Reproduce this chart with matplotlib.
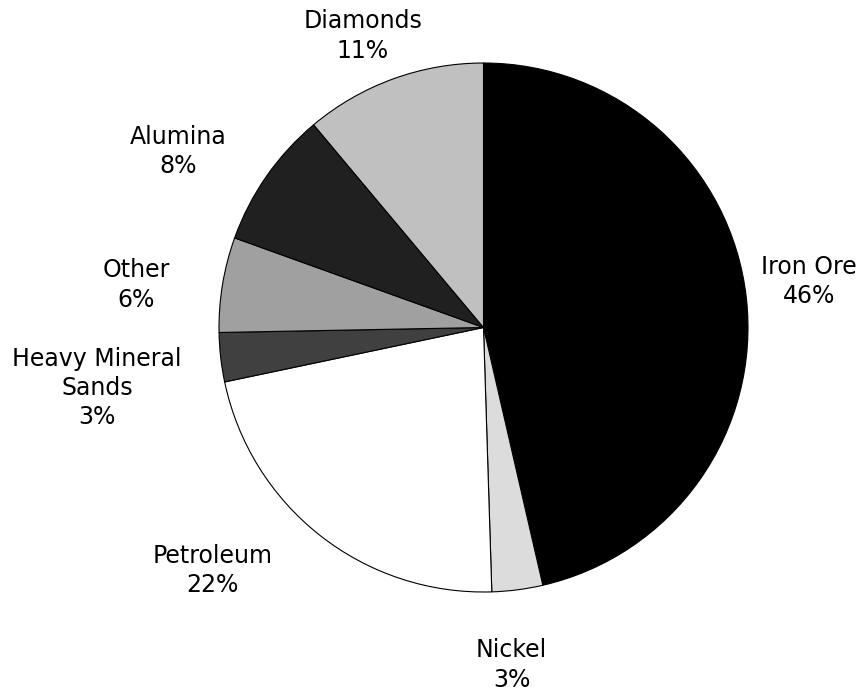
import matplotlib
matplotlib.use("Agg")
import matplotlib.pyplot as plt
import numpy as np

categories = ["Iron Ore", "Nickel", "Petroleum", "Heavy Mineral\nSands", "Other", "Alumina", "Diamonds"]
values = [46.4, 3.1, 22.2, 3.0, 5.8, 8.4, 11.1]
colors = ["#000000", "#dcdcdc", "#ffffff", "#404040", "#a0a0a0", "#202020", "#c0c0c0"]

# label layout (radial distance, angular shift in degrees)
label_r = [1.243, 1.281, 1.376, 1.479, 1.324, 1.332, 1.193]
label_dtheta = [1.6, -2.6, -10.0, 2.4, 2.4, 5.0, 2.5]

fig = plt.figure(figsize=(8.61, 6.95), dpi=100)
ax = fig.add_axes([0, 0, 1, 1])
wedges, _ = ax.pie(values, colors=colors, startangle=90, counterclock=False,
                   radius=1.0, wedgeprops=dict(edgecolor="black", linewidth=0.8))
ax.set_xlim(-483.5 / 264.5, (861 - 483.5) / 264.5)
ax.set_ylim(-367.5 / 264.5, 327.5 / 264.5)
ax.set_aspect("auto")
ax.axis("off")

total = sum(values)
for w, cat, v, r, dt in zip(wedges, categories, values, label_r, label_dtheta):
    mid = np.deg2rad((w.theta1 + w.theta2) / 2 + dt)
    x, y = r * np.cos(mid), r * np.sin(mid)
    ax.text(x, y, f"{cat}\n{round(v / total * 100):d}%", ha="center", va="center",
            fontsize=17, family="DejaVu Sans", linespacing=1.28, color="#000000",
            zorder=5)

fig.savefig("out.png", dpi=100)
